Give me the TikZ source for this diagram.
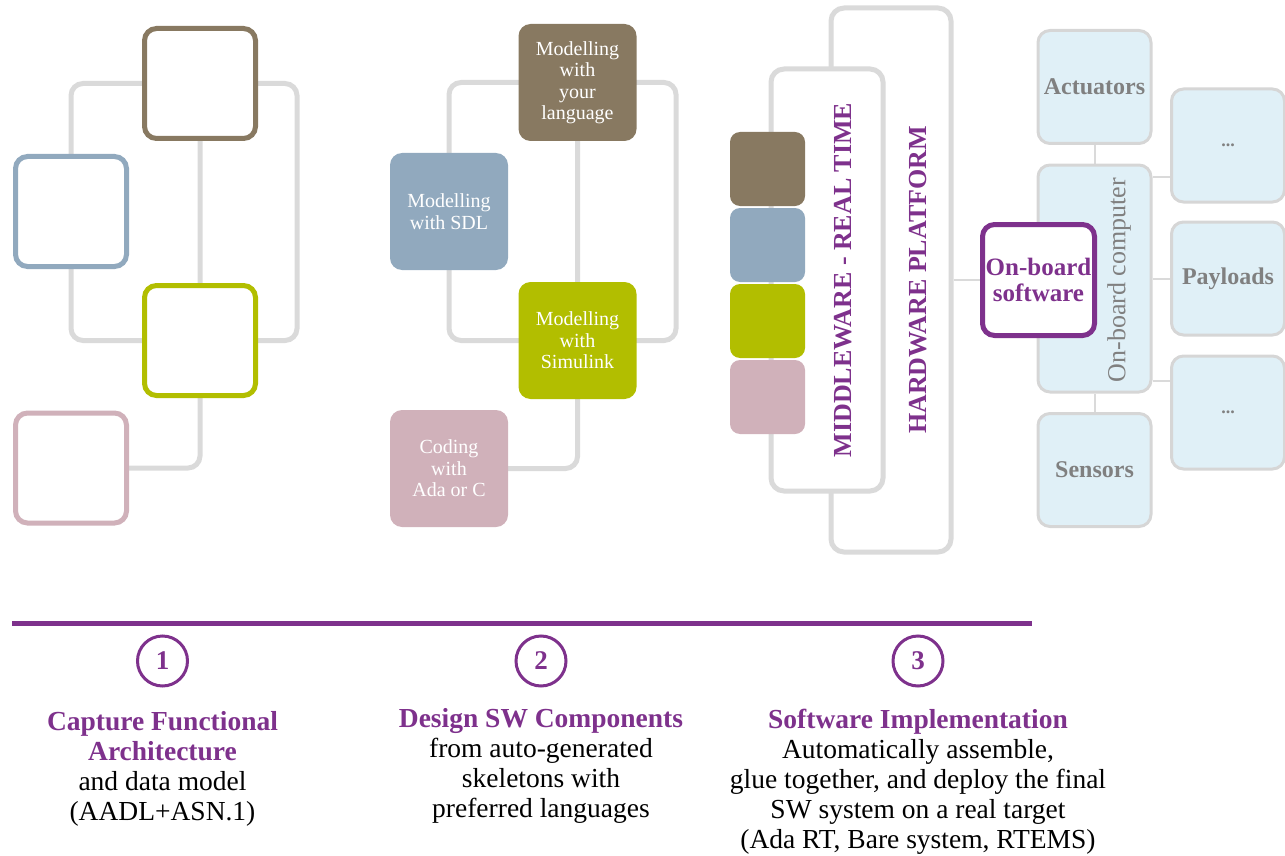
\documentclass[tikz,border=0pt]{standalone}
\usepackage{fontspec}
\setmainfont{Liberation Serif}
\usetikzlibrary{positioning,backgrounds}

\definecolor{tvBrown}{RGB}{136,121,97}
\definecolor{tvBlue}{RGB}{145,169,190}
\definecolor{tvGreen}{RGB}{178,190,0}
\definecolor{tvPink}{RGB}{208,177,186}
\definecolor{tvWire}{RGB}{218,218,218}
\definecolor{tvPurple}{RGB}{126,49,140}
\definecolor{tvSky}{RGB}{224,240,247}
\definecolor{tvSkyLine}{RGB}{214,214,214}
\definecolor{tvGrey}{RGB}{128,128,128}

\newcommand{\phasetitle}[1]{\textcolor{tvPurple}{\bfseries #1}}

\tikzset{
	frame/.style={draw=#1, fill=white, line width=5pt, rounded corners=12pt,
		minimum width=111pt, minimum height=110pt, inner sep=0pt},
	langbox/.style={fill=#1, rounded corners=12pt, minimum width=118pt, minimum height=117pt,
		inner sep=0pt, align=center, text=white, font=\fontsize{20}{21.5}\selectfont},
	colorchip/.style={fill=#1, rounded corners=10pt, minimum width=75pt, minimum height=74pt},
	layer/.style={draw=tvWire, fill=white, line width=5pt, rounded corners=13pt, inner sep=0pt},
	layertext/.style={rotate=90, text=tvPurple, font=\fontsize{26}{30}\bfseries\selectfont},
	unit/.style={draw=tvSkyLine, fill=tvSky, line width=3pt, rounded corners=12pt,
		minimum width=113pt, minimum height=113pt, inner sep=0pt, align=center,
		text=tvGrey, font=\fontsize{24}{27}\bfseries\selectfont},
	greywire/.style={draw=tvWire, line width=5pt, rounded corners=12pt},
	thinwire/.style={draw=tvWire, line width=2pt},
	stepmark/.style={circle, draw=tvPurple, line width=3pt, minimum size=50pt, inner sep=0pt,
		text=tvPurple, font=\fontsize{27}{30}\bfseries\selectfont},
	caption/.style={align=center, inner sep=0pt, font=\fontsize{27.5}{30}\selectfont}
}

\begin{document}
\begin{tikzpicture}[x=1pt,y=-1pt]
	\useasboundingbox (0,0) rectangle (1285,856);

	\node[frame=tvBrown] (brownFrame) at (200,83.5) {};
	\node[frame=tvBlue] (blueFrame) at (71,211.5) {};
	\node[frame=tvGreen] (greenFrame) at (200,340.5) {};
	\node[frame=tvPink] (pinkFrame) at (71,468) {};

	\node[langbox=tvBrown] (yourLang) at (577.5,82.5) {Modelling\\with\\your\\language};
	\node[langbox=tvBlue] (sdl) at (449,211.5) {Modelling\\with SDL};
	\node[langbox=tvGreen] (simulink) at (577.5,340.5) {Modelling\\with\\Simulink};
	\node[langbox=tvPink] (adaC) at (449,468.5) {Coding\\with\\Ada or C};

	\node[layer, minimum width=120pt, minimum height=544pt] (hwPlatform) at (891,280) {};
	\node[layertext] at (918,280) {HARDWARE PLATFORM};
	\node[layer, minimum width=112pt, minimum height=422pt] (middleware) at (827,280) {};
	\node[layertext] at (843,280) {MIDDLEWARE - REAL TIME};
	\node[colorchip=tvBrown] (chipBrown) at (767.5,169) {};
	\node[colorchip=tvBlue] (chipBlue) at (767.5,245) {};
	\node[colorchip=tvGreen] (chipGreen) at (767.5,321) {};
	\node[colorchip=tvPink] (chipPink) at (767.5,397) {};

	\node[unit, minimum height=227pt] (obc) at (1094.5,278.5) {};
	\node[rotate=90, text=tvGrey, font=\fontsize{26}{28}\selectfont] (obcLabel) at (1119,280) {On-board computer};
	\node[unit] (actuators) at (1094.5,87) {Actuators};
	\node[unit] (sensors) at (1094.5,470) {Sensors};
	\node[unit, font=\fontsize{18}{22}\bfseries\selectfont] (moreTop) at (1228,145.5) {...};
	\node[unit] (payloads) at (1228,278.5) {Payloads};
	\node[unit, font=\fontsize{18}{22}\bfseries\selectfont] (moreBottom) at (1228,412.5) {...};
	\node[frame=tvPurple, minimum width=112pt, minimum height=111pt, align=center,
		text=tvPurple, font=\fontsize{25}{26}\bfseries\selectfont] (obsw) at (1038.5,280) {On-board\\software};

	\begin{scope}[on background layer]
		\draw[greywire] (brownFrame.center) -| (blueFrame.center) |- (greenFrame.center) -- ++(97,0) |- (brownFrame.center);
		\draw[greywire] (brownFrame.center) |- (pinkFrame.center);
		\draw[greywire] (yourLang.center) -| (sdl.center) |- (simulink.center) -- ++(98.5,0) |- (yourLang.center);
		\draw[greywire] (yourLang.center) |- (adaC.center);
		\draw[thinwire] (hwPlatform.east) -- (obsw.west);
		\draw[thinwire] (actuators) -- (obc);
		\draw[thinwire] (obc) -- (sensors);
		\draw[thinwire] (obc) -- (payloads);
		\draw[thinwire] ([yshift=-13pt]obc.north east) coordinate (obcTop) -- (obcTop -| moreTop.west);
		\draw[thinwire] ([yshift=13pt]obc.south east) coordinate (obcBottom) -- (obcBottom -| moreBottom.west);
	\end{scope}

	\coordinate (ruleStart) at (12,623);
	\coordinate (ruleEnd) at (1032,623);
	\draw[tvPurple, line width=5pt] (ruleStart) -- (ruleEnd);

	\node[stepmark] (stepOne) at (162.5,661) {1};
	\node[stepmark] (stepTwo) at (541,661) {2};
	\node[stepmark] (stepThree) at (918,661) {3};

	\node[caption, below=24pt of stepOne] (captureText)
		{\phasetitle{Capture Functional}\\\phasetitle{Architecture}\\and data model\\(AADL+ASN.1)};
	\node[caption, below=21pt of stepTwo] (designText)
		{\phasetitle{Design SW Components}\\from auto-generated\\skeletons with\\preferred languages};
	\node[caption, below=21pt of stepThree] (implText)
		{\phasetitle{Software Implementation}\\Automatically assemble,\\glue together, and deploy the final\\SW system on a real target\\(Ada RT, Bare system, RTEMS)};
\end{tikzpicture}
\end{document}
